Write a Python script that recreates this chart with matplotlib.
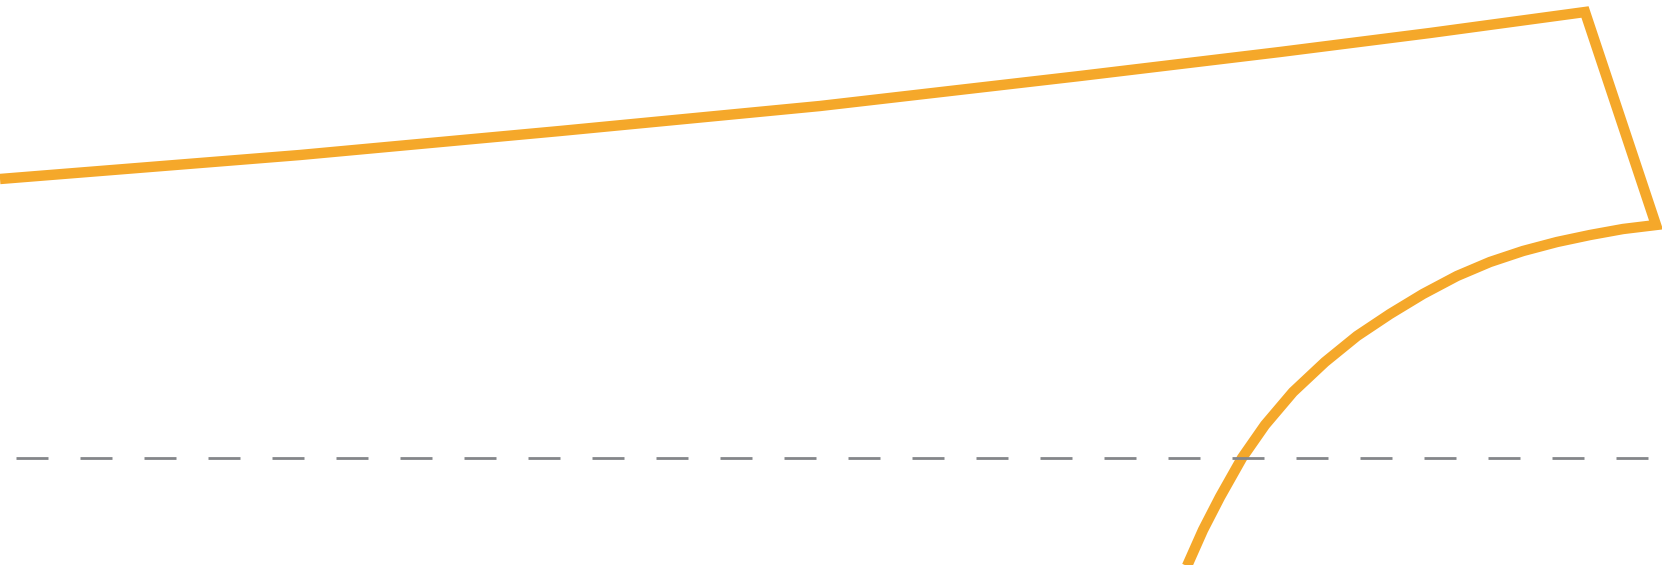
import matplotlib
matplotlib.use("Agg")
import matplotlib.pyplot as plt

# outline (pixel units, y grows downwards)
top_x = [0, 200, 300, 560, 820, 1080, 1280, 1430, 1585]
top_y = [179, 163, 155, 131, 106, 76, 52, 33, 12]
tip_x = [1656]
tip_y = [225]
arc_x = [1623, 1590, 1557, 1523, 1490, 1457, 1423, 1390, 1357, 1325, 1293,
         1265, 1242, 1220, 1203, 1187]
arc_y = [229, 235, 242, 251, 262, 276, 294, 314, 336, 362, 392,
         425, 458, 497, 530, 566]

# dashed reference line
ref_y = 458
ref_start = 16
ref_end = 1648

W, H = 1662, 565
orange = '#F5A82A'
grey = '#84868A'

plt.rcParams['lines.scale_dashes'] = False

fig = plt.figure(figsize=(W / 100, H / 100), dpi=100)
ax = fig.add_axes([0, 0, 1, 1])

xs = top_x + tip_x + arc_x
ys = top_y + tip_y + arc_y
ax.plot(xs, ys, color=orange, linewidth=7.5, solid_joinstyle='miter',
        solid_capstyle='butt')

ax.plot([ref_start, ref_end], [ref_y, ref_y], color=grey, linewidth=2.0,
        dashes=(23.04, 23.04), dash_capstyle='butt')

ax.set_xlim(0, W)
ax.set_ylim(H, 0)
ax.axis('off')

fig.savefig('out.png', dpi=100)
